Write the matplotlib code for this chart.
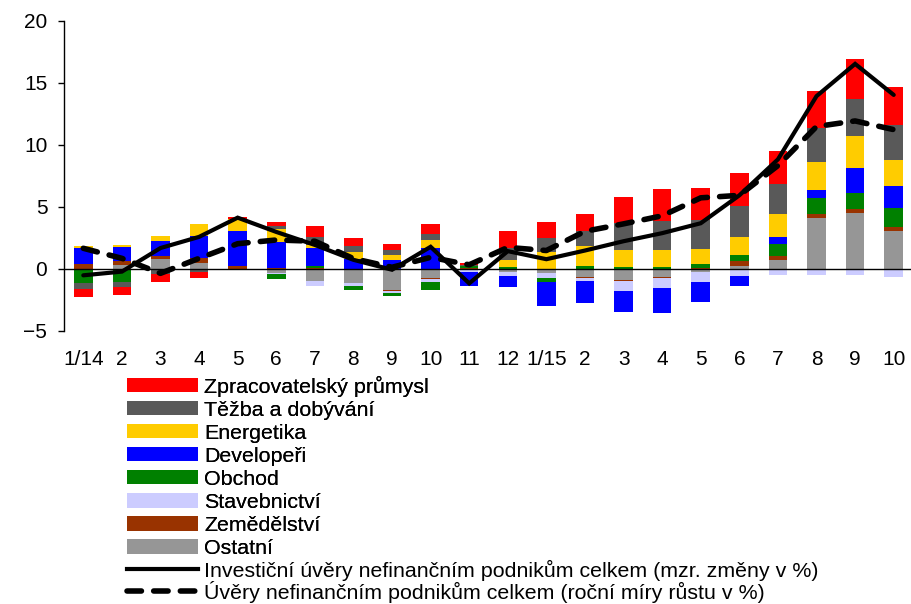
import numpy as np
import matplotlib
matplotlib.use('Agg')
import matplotlib.pyplot as plt
from matplotlib.patches import Patch
from matplotlib.lines import Line2D

plt.rcParams['font.family'] = ['Liberation Sans', 'DejaVu Sans']

months = ['1/14', '2', '3', '4', '5', '6', '7', '8', '9', '10', '11', '12',
          '1/15', '2', '3', '4', '5', '6', '7', '8', '9', '10']

zpracovatelsky = [-0.65, -0.62, -0.6, -0.5, 0.2, 0.4, 0.89, 0.62, 0.54, 0.75, 0.19, 1.34,
                  1.34, 1.4, 2.15, 2.55, 2.63, 2.6, 2.6, 2.96, 3.2, 3.09]
tezba = [-0.48, -0.4, -0.35, -0.3, 0.0, 0.22, 0.6, 0.46, 0.4, 0.54, 0.05, 1.0,
         1.08, 1.2, 2.1, 2.34, 2.28, 2.5, 2.42, 2.77, 2.96, 2.77]
energetika = [0.16, 0.19, 0.43, 0.94, 0.97, 1.05, 0.27, 0.59, 0.4, 0.59, 0.0, 0.54,
              1.34, 1.6, 1.4, 1.37, 1.21, 1.53, 1.88, 2.28, 2.63, 2.15]
developeri = [1.26, 1.08, 1.2, 1.8, 2.82, 2.04, 1.42, 0.75, 0.67, 1.67, -1.08, -0.95,
              -2.0, -1.76, -1.67, -2.05, -1.64, -0.88, 0.59, 0.62, 2.02, 1.75]
obchod = [-1.2, -1.08, -0.12, 0.0, -0.15, -0.37, 0.19, -0.35, -0.27, -0.62, 0.15, 0.13,
          -0.33, 0.2, 0.13, 0.15, 0.32, 0.48, 0.94, 1.26, 1.29, 1.53]
stavebnictvi = [0.0, 0.0, 0.0, 0.0, 0.0, -0.1, -0.4, -0.2, -0.15, -0.24, -0.19, -0.27,
                -0.33, -0.25, -0.8, -0.78, -0.8, -0.57, -0.54, -0.5, -0.54, -0.68]
zemedelstvi = [0.4, 0.3, 0.27, 0.35, 0.19, 0.08, 0.05, -0.05, -0.05, -0.08, 0.05, -0.05,
               -0.05, -0.08, -0.08, -0.06, 0.08, 0.38, 0.35, 0.32, 0.32, 0.32]
ostatni = [0.0, 0.32, 0.73, 0.46, 0.0, -0.35, -1.0, -1.13, -1.75, -0.8, -0.13, -0.25,
           -0.35, -0.7, -0.95, -0.72, -0.3, 0.19, 0.67, 4.1, 4.44, 3.04]

investicni = [-0.55, -0.25, 1.65, 2.55, 4.1, 2.95, 1.9, 0.7, -0.1, 1.75, -1.2, 1.4,
              0.75, 1.45, 2.2, 2.85, 3.65, 5.9, 8.8, 13.9, 16.5, 14.0]
uvery = [1.63, 0.82, -0.39, 0.82, 2.0, 2.3, 2.2, 0.8, 0.1, 0.9, 0.3, 1.7,
         1.45, 3.0, 3.6, 4.25, 5.7, 5.9, 8.3, 11.45, 11.9, 11.2]

line_labels = ['Investiční úvěry nefinančním podnikům celkem (mzr. změny v %)',
               'Úvěry nefinančním podnikům celkem (roční míry růstu v %)']

# stack order bottom -> top
stack = [
    ('Ostatní', ostatni, '#969696'),
    ('Zemědělství', zemedelstvi, '#993300'),
    ('Stavebnictví', stavebnictvi, '#CCCCFF'),
    ('Obchod', obchod, '#008000'),
    ('Developeři', developeri, '#0000FF'),
    ('Energetika', energetika, '#FFCC00'),
    ('Těžba a dobývání', tezba, '#595959'),
    ('Zpracovatelský průmysl', zpracovatelsky, '#FF0000'),
]

W, H = 911, 604
fig = plt.figure(figsize=(W / 100, H / 100), dpi=100)
ax = fig.add_axes([64 / W, (H - 330.5) / H, 849 / W, 310 / H])

x = np.arange(len(months))
pos_b = np.zeros(len(x))
neg_b = np.zeros(len(x))
for name, vals, col in stack:
    v = np.array(vals, dtype=float)
    p = np.where(v > 0, v, 0)
    n = np.where(v < 0, v, 0)
    ax.bar(x, p, bottom=pos_b, width=0.48, color=col, zorder=2)
    ax.bar(x, n, bottom=neg_b, width=0.48, color=col, zorder=2)
    pos_b += p
    neg_b += n

dash = (0, (2.6, 2.2))
ax.axhline(0, color='black', lw=1, zorder=3)
ax.plot(x, investicni, color='black', lw=3, solid_capstyle='round',
        solid_joinstyle='miter', zorder=5)
ax.plot(x, uvery, color='black', lw=4, linestyle=dash,
        dash_capstyle='round', zorder=4)

ax.set_xlim(-0.5, 21.5)
ax.set_ylim(-5, 20)
ax.set_yticks([-5, 0, 5, 10, 15, 20])
ax.set_xticks(x)
ax.set_xticklabels(months)
for s in ['top', 'right', 'bottom']:
    ax.spines[s].set_visible(False)
ax.spines['left'].set_linewidth(1)
ax.tick_params(axis='y', direction='out', length=4, width=1, labelsize=15, pad=8)
ax.tick_params(axis='x', length=0, labelsize=15, pad=14)

common = dict(frameon=False, fontsize=15.4, handlelength=3.3, handleheight=0.65,
              handletextpad=0.3, borderpad=0, borderaxespad=0, loc='upper left')

bar_handles = [Patch(facecolor=c) for _, _, c in stack[::-1]]
bar_labels = [n for n, _, _ in stack[::-1]]
leg1 = fig.legend(bar_handles, bar_labels, bbox_to_anchor=(127 / W, (H - 375.5) / H),
                  labelspacing=0.19, **common)

line_handles = [Line2D([], [], color='black', lw=3),
                Line2D([], [], color='black', lw=4, linestyle=dash, dash_capstyle='round')]
leg2 = fig.legend(line_handles, line_labels, bbox_to_anchor=(127 / W, (H - 559.5) / H),
                  labelspacing=0.0, **common)
fig.add_artist(leg1)

fig.savefig('out.png', dpi=100)
